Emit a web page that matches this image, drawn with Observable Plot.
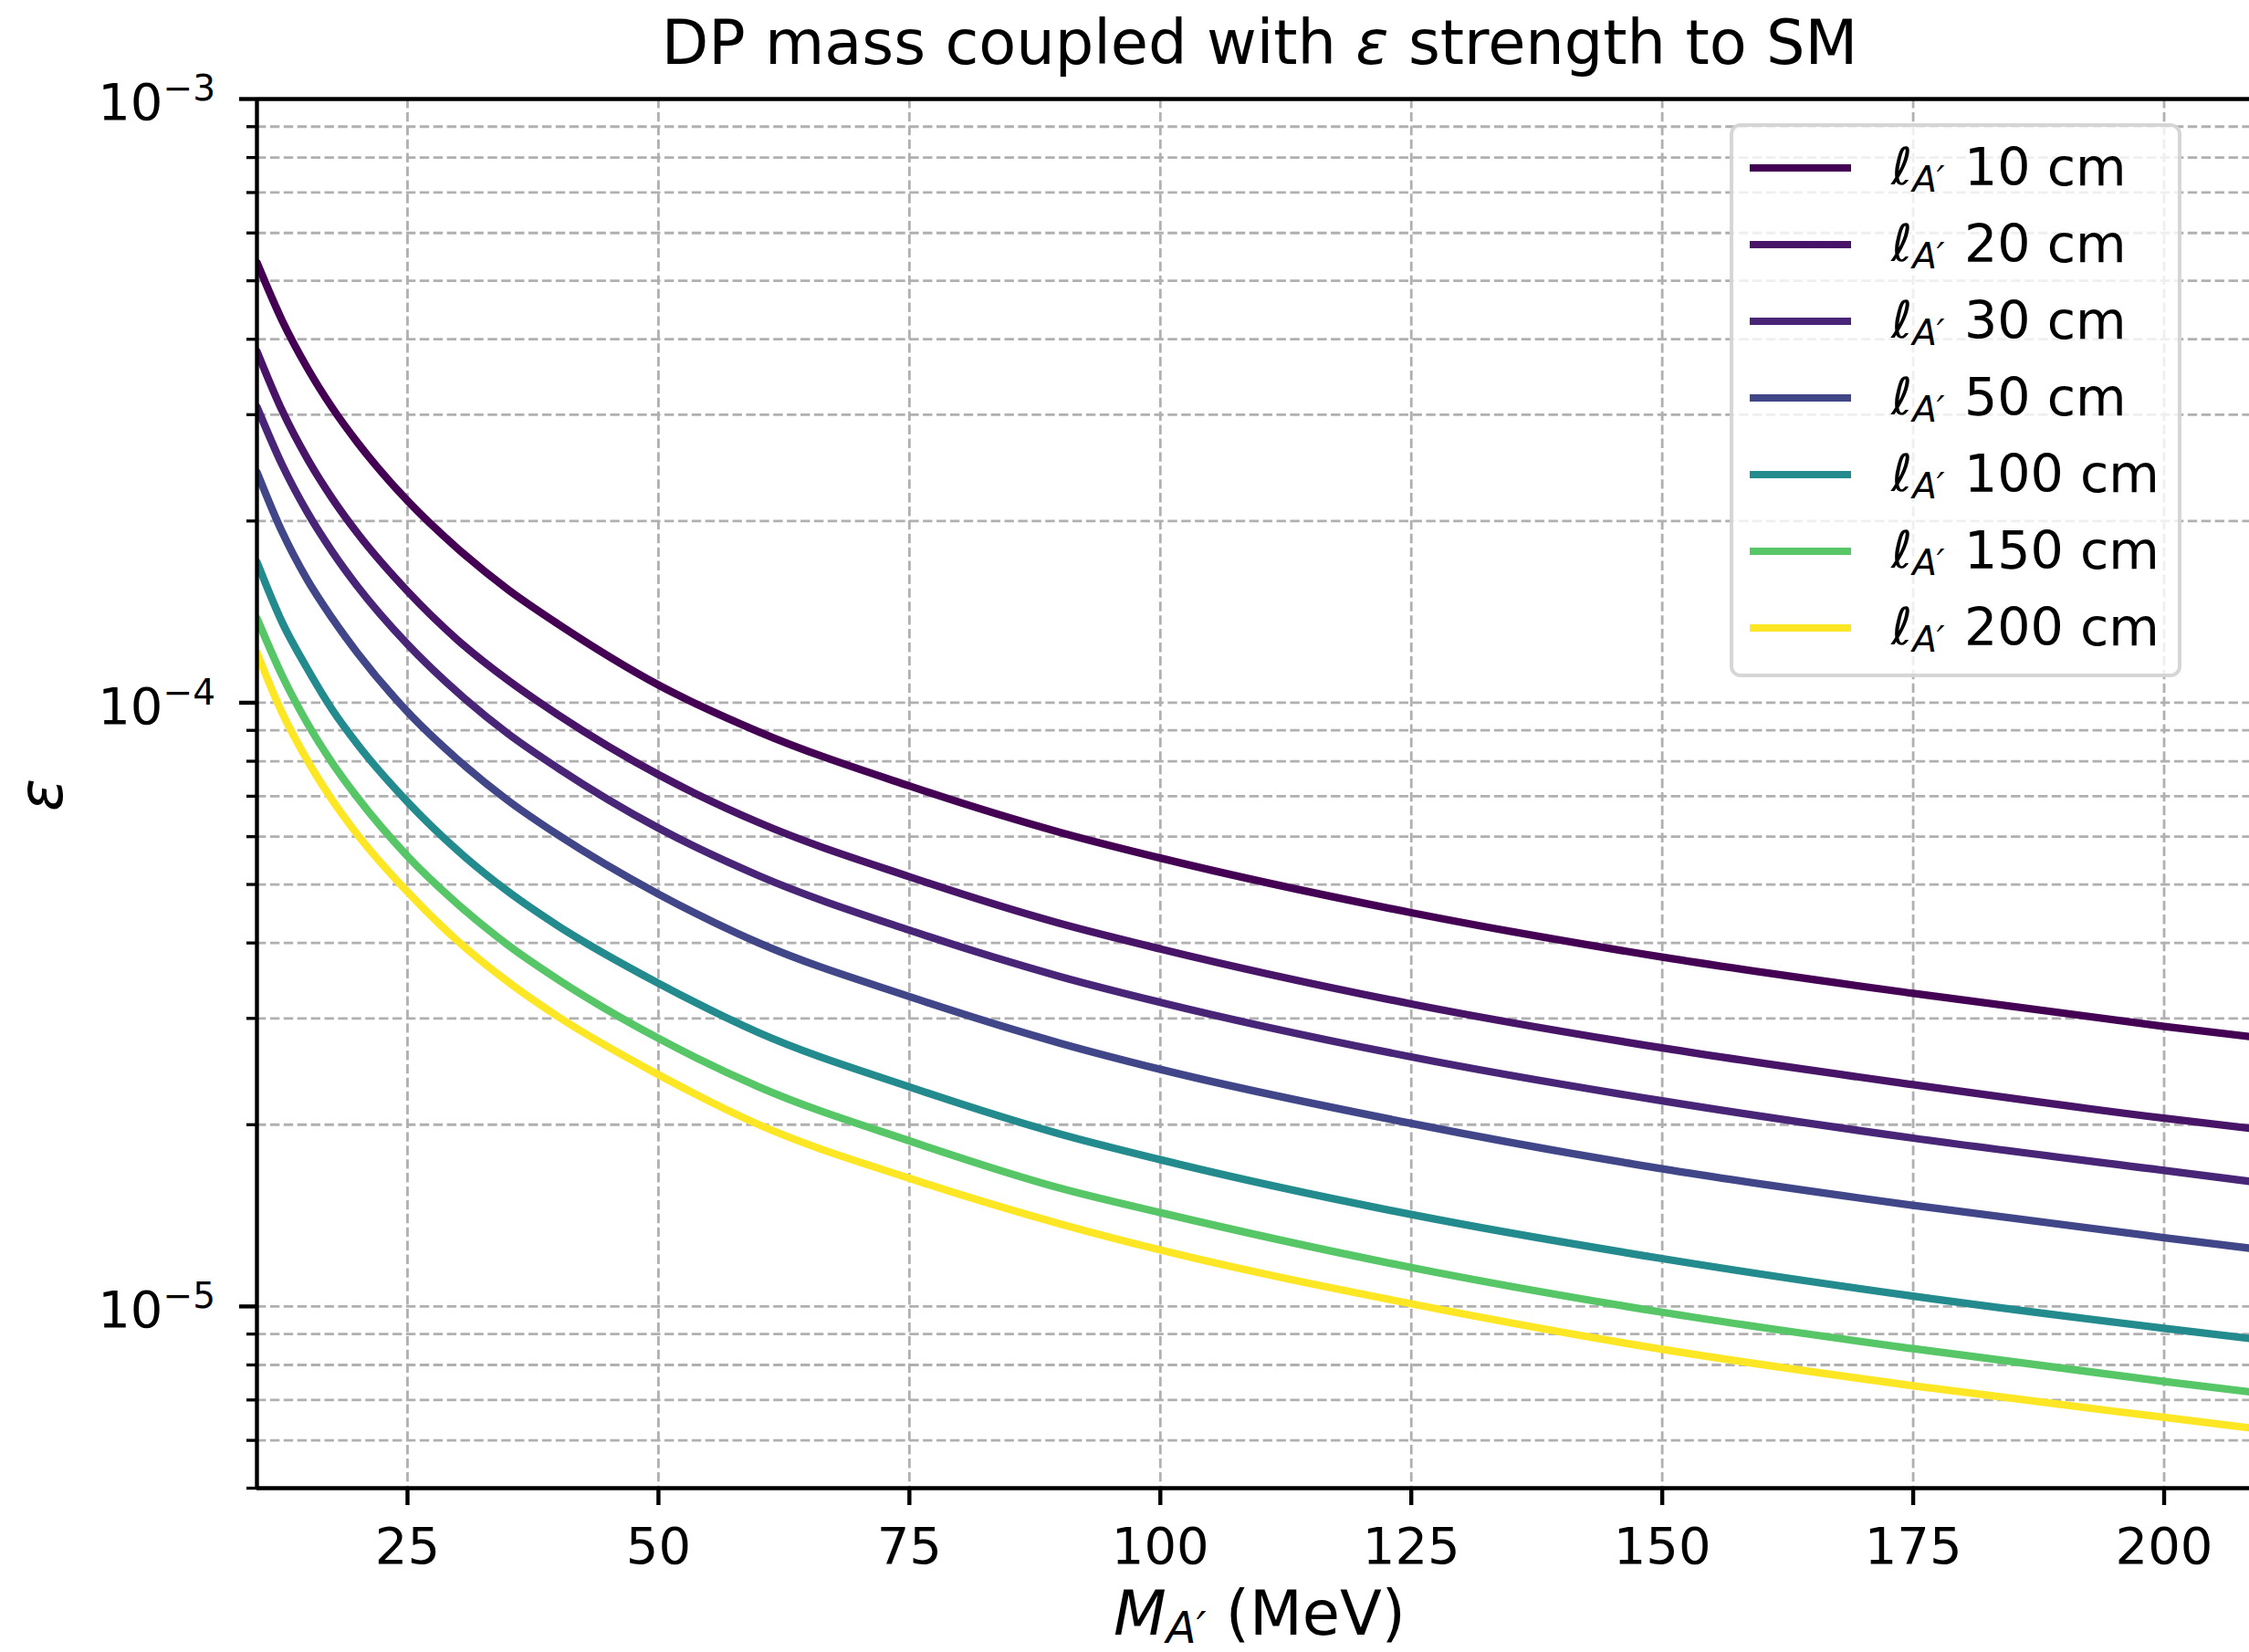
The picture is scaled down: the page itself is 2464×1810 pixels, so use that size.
<!DOCTYPE html>
<html>
<head>
<meta charset="utf-8">
<script src="https://cdn.jsdelivr.net/npm/d3@7"></script>
<script src="https://cdn.jsdelivr.net/npm/@observablehq/plot@0.6"></script>
<style>
html, body { margin: 0; padding: 0; background: #fff; overflow: hidden; }
#wrap { position: relative; width: 2464px; height: 1810px; font-family: "DejaVu Sans"; color: #000; }
.abs { position: absolute; white-space: nowrap; line-height: 1; }
</style>
</head>
<body>
<div id="wrap"></div>
<script>
// ---- data ----
const masses = [10, 12.5, 15, 17.5, 20, 25, 30, 35, 40, 50, 60, 75, 90, 100, 125, 150, 175, 200, 210];
const lengths = [10, 20, 30, 50, 100, 150, 200];
const eps_l10  = [5.36e-4, 4.30e-4, 3.59e-4, 3.08e-4, 2.70e-4, 2.16e-4, 1.80e-4, 1.54e-4, 1.35e-4, 1.07e-4, 8.95e-5, 7.28e-5, 6.10e-5, 5.53e-5, 4.49e-5, 3.79e-5, 3.30e-5, 2.91e-5, 2.78e-5];
const eps_l20  = [3.82e-4, 3.05e-4, 2.54e-4, 2.18e-4, 1.91e-4, 1.53e-4, 1.27e-4, 1.09e-4, 9.55e-5, 7.60e-5, 6.33e-5, 5.15e-5, 4.31e-5, 3.91e-5, 3.17e-5, 2.68e-5, 2.33e-5, 2.05e-5, 1.96e-5];
const eps_l30  = [3.09e-4, 2.48e-4, 2.07e-4, 1.78e-4, 1.56e-4, 1.25e-4, 1.04e-4, 8.89e-5, 7.79e-5, 6.20e-5, 5.17e-5, 4.20e-5, 3.52e-5, 3.19e-5, 2.59e-5, 2.19e-5, 1.90e-5, 1.68e-5, 1.60e-5];
const eps_l50  = [2.41e-4, 1.92e-4, 1.60e-4, 1.38e-4, 1.21e-4, 9.66e-5, 8.05e-5, 6.89e-5, 6.04e-5, 4.82e-5, 4.00e-5, 3.26e-5, 2.73e-5, 2.47e-5, 2.01e-5, 1.69e-5, 1.47e-5, 1.30e-5, 1.24e-5];
const eps_l100 = [1.71e-4, 1.36e-4, 1.14e-4, 9.74e-5, 8.54e-5, 6.85e-5, 5.69e-5, 4.87e-5, 4.27e-5, 3.43e-5, 2.84e-5, 2.31e-5, 1.93e-5, 1.75e-5, 1.42e-5, 1.20e-5, 1.04e-5, 9.20e-6, 8.79e-6];
const eps_l150 = [1.38e-4, 1.11e-4, 9.26e-5, 7.95e-5, 6.97e-5, 5.57e-5, 4.64e-5, 3.97e-5, 3.48e-5, 2.78e-5, 2.31e-5, 1.88e-5, 1.57e-5, 1.43e-5, 1.16e-5, 9.78e-6, 8.51e-6, 7.51e-6, 7.17e-6];
const eps_l200 = [1.21e-4, 9.63e-5, 8.04e-5, 6.90e-5, 6.05e-5, 4.86e-5, 4.03e-5, 3.45e-5, 3.02e-5, 2.42e-5, 2.00e-5, 1.63e-5, 1.37e-5, 1.24e-5, 1.01e-5, 8.49e-6, 7.39e-6, 6.55e-6, 6.25e-6];
const xTicks = [25, 50, 75, 100, 125, 150, 175, 200];
const yMajor = [1e-5, 1e-4, 1e-3];
const yMinor = [5e-6, 6e-6, 7e-6, 8e-6, 9e-6, 2e-5, 3e-5, 4e-5, 5e-5, 6e-5, 7e-5, 8e-5, 9e-5, 2e-4, 3e-4, 4e-4, 5e-4, 6e-4, 7e-4, 8e-4, 9e-4];
const xDomain = [10, 208.5];
const yDomain = [5e-6, 1e-3];
const titleText = 'DP mass coupled with <i>ε</i> strength to SM';

// ---- build ----
const series = [eps_l10, eps_l20, eps_l30, eps_l50, eps_l100, eps_l150, eps_l200];
const labels = lengths.map(l => `ℓA′ ${l} cm`);
const colors = lengths.map(l => d3.interpolateViridis((l - 10) / 190));
const rows = lengths.flatMap((l, i) => masses.map((m, j) => ({M: m, eps: series[i][j], series: labels[i]})));

const gridStyle = {stroke: "#b0b0b0", strokeOpacity: 1, strokeWidth: 2.8, strokeDasharray: "10.4,4.5"};

const chart = Plot.plot({
  width: 2464,
  height: 1810,
  marginLeft: 281,
  marginRight: 0,
  marginTop: 108,
  marginBottom: 180,
  style: {fontFamily: '"DejaVu Sans"', fontSize: "56px", background: "transparent", color: "#000", overflow: "visible"},
  x: {domain: xDomain},
  y: {type: "log", domain: yDomain},
  color: {domain: labels, range: colors},
  marks: [
    Plot.gridY(yMajor.concat(yMinor), gridStyle),
    Plot.gridX(xTicks, gridStyle),
    Plot.line(rows, {x: "M", y: "eps", z: "series", stroke: "series", strokeWidth: 8.3, curve: "monotone-x", clip: true}),
    Plot.ruleX([xDomain[0]], {strokeWidth: 4.4}),
    Plot.ruleY(yDomain, {strokeWidth: 4.4}),
    Plot.axisX(xTicks, {tickSize: 19, tickPadding: 24, strokeWidth: 4.4, fontSize: 56, label: null}),
    Plot.axisY(yMajor, {tickSize: 19, strokeWidth: 4.4, tickFormat: () => "", label: null}),
    Plot.axisY(yMinor, {tickSize: 11, strokeWidth: 3.3, tickFormat: () => "", label: null}),
    Plot.text(yMajor, {y: d => d, frameAnchor: "left", text: () => "10", textAnchor: "end", dx: -103, dy: 5, fontSize: 56}),
    Plot.text(yMajor, {y: d => d, frameAnchor: "left", text: d => "−" + Math.round(-Math.log10(d)), textAnchor: "start", dx: -103, dy: -10.8, fontSize: 39})
  ]
});

const wrap = document.getElementById("wrap");
chart.style.position = "absolute";
chart.style.left = "0px";
chart.style.top = "0px";
wrap.appendChild(chart);

function addDiv(html, css) {
  const d = document.createElement("div");
  d.className = "abs";
  d.innerHTML = html;
  Object.assign(d.style, css);
  wrap.appendChild(d);
  return d;
}

// title
addDiv(titleText, {fontSize: "67px", left: "1380px", top: "14px", transform: "translateX(-50%)"});
// x label
addDiv('<i>M</i><i style="font-size:48px;line-height:0.8;position:relative;top:9px">A′</i> (MeV)',
  {fontSize: "67px", left: "1380px", top: "1735px", transform: "translateX(-50%)"});
// y label
addDiv('<i>ε</i>', {fontSize: "67px", left: "45px", top: "871px", transform: "translate(-50%,-50%) rotate(-90deg)"});

// legend
const leg = document.createElement("div");
Object.assign(leg.style, {
  position: "absolute", left: "1895px", top: "135px", width: "495px", height: "607px",
  boxSizing: "border-box", border: "4px solid rgba(204,204,204,0.8)", borderRadius: "12px",
  background: "rgba(255,255,255,0.8)"
});
wrap.appendChild(leg);
lengths.forEach((l, i) => {
  const cy = 184 + 84 * i - 139;
  const h = document.createElement("div");
  Object.assign(h.style, {position: "absolute", left: "18px", top: (cy - 4.15) + "px", width: "111px", height: "8.3px", background: colors[i]});
  leg.appendChild(h);
  const base = cy + 18 - 47.4;
  const m = document.createElement("div");
  m.className = "abs";
  m.style.fontSize = "56px";
  m.style.left = "173px";
  m.style.top = base + "px";
  m.innerHTML = '<i>ℓ</i><i style="font-size:39px;position:relative;top:8px">A′</i>';
  leg.appendChild(m);
  const t = document.createElement("div");
  t.className = "abs";
  t.style.fontSize = "57px";
  t.style.left = "253px";
  t.style.top = base + "px";
  t.textContent = `${l} cm`;
  leg.appendChild(t);
});
</script>
</body>
</html>
